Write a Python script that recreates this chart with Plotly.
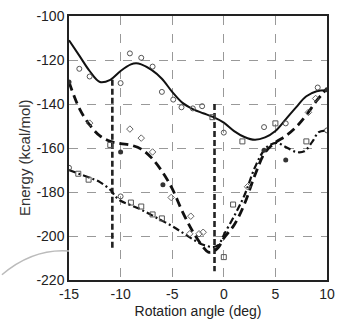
import plotly.graph_objects as go

# ---- data ----
angle_solid = [-15, -14, -13, -12, -11, -10, -9, -8.5, -8, -7, -6, -5, -4, -3, -2, -1, 0, 1, 2, 3, 4, 5, 6, 7, 8, 9, 10]
energy_solid = [-111, -118, -125, -130, -129, -125, -122, -121.5, -122, -124.5, -128.5, -134.5, -139.5, -142.3,
                -144.2, -146, -148.5, -152.3, -155, -156.3, -155.2, -152.3, -147, -141.5, -136.5, -134.2, -133.8]

angle_dash = [-15, -14, -13, -12, -11, -10, -9, -8, -7, -6, -5, -4, -3, -2, -1.5, -1, -0.5, 0, 1, 2, 3, 4, 5, 6, 7, 8, 9, 10]
energy_dash = [-130, -142, -149.5, -154.5, -157, -158, -158.7, -160.5, -164.5, -170.5, -178.5, -189, -198, -205,
               -207.3, -207, -205, -201, -195, -185.5, -172.5, -162, -157.5, -154.5, -150.5, -145, -138.5, -133]

angle_dd = [-15, -14, -13, -12, -11, -10.5, -10, -9, -8, -7, -6, -5, -4, -3, -2, -1, -0.5, 0, 1, 2, 3, 3.9, 4.5,
            5.2, 6, 7, 7.8, 8.6, 9.2, 10]
energy_dd = [-170, -171.8, -173.5, -175.5, -179, -182, -184, -186, -188, -190.5, -193, -195.5, -198.5, -201.5, -204,
             -205, -204, -199.5, -191, -181.5, -169, -161, -158.5, -157.7, -159.5, -161.8, -161.5, -157, -152.8, -152]

vline_x = [-10.8, -0.9]
vline_top = [-129, -140]
vline_bottom = [-206, -216]

circ_x = [-14, -13, -10, -9.1, -8, -6.9, -6, -4.9, -4.1, -3, -2.1, 0, 3.9, 6, 9.1, -15, -10, 10]
circ_y = [-124, -127.5, -130.5, -117, -119, -123, -134.5, -138, -141.5, -142, -141, -153, -150.5, -148.8, -132.5,
          -169, -182, -152]
sq_x = [-1.1, 1.8, 5, -11, 0, 0.9, -14.1, -13.1, -9, -8, -6.9, -6, 8]
sq_y = [-146, -157, -148.8, -158.6, -209.6, -185.7, -171.7, -174.4, -184.8, -186.6, -190.2, -192, -157]
dia_x = [-13, -9.1, -8, -6.9, -5.1, -3.2, -2, 8.2, 8.9, 2.3, -3.3, -2.4]
dia_y = [-148.7, -151.4, -155.5, -161.8, -182.5, -191, -198.3, -143.8, -137.5, -177.6, -199, -199]
fill_x = [-15, -10, -5.9, 6, 10, 3.9]
fill_y = [-130, -161.8, -176.7, -165.4, -133.5, -161]

x_ticks = [-15, -10, -5, 0, 5, 10]
y_ticks = [-100, -120, -140, -160, -180, -200, -220]

fig = go.Figure()

for vx, vt, vb in zip(vline_x, vline_top, vline_bottom):
    fig.add_trace(go.Scatter(x=[vx, vx], y=[vt, vb], mode="lines",
                             line=dict(color="#222", width=2.6, dash="6px,3px"), showlegend=False))

fig.add_trace(go.Scatter(x=angle_solid, y=energy_solid, mode="lines", line_shape="spline",
                         line=dict(color="#111", width=2), showlegend=False))
fig.add_trace(go.Scatter(x=angle_dash, y=energy_dash, mode="lines", line_shape="spline",
                         line=dict(color="#111", width=2.8, dash="9px,5px"), showlegend=False))
fig.add_trace(go.Scatter(x=angle_dd, y=energy_dd, mode="lines", line_shape="spline",
                         line=dict(color="#111", width=2.2, dash="7px,3px,2px,3px"), showlegend=False))

fig.add_trace(go.Scatter(x=circ_x, y=circ_y, mode="markers",
                         marker=dict(symbol="circle-open", size=5, color="#555", line=dict(width=1)),
                         showlegend=False))
fig.add_trace(go.Scatter(x=sq_x, y=sq_y, mode="markers",
                         marker=dict(symbol="square-open", size=5, color="#555", line=dict(width=1)),
                         showlegend=False))
fig.add_trace(go.Scatter(x=dia_x, y=dia_y, mode="markers",
                         marker=dict(symbol="diamond-open", size=5, color="#666", line=dict(width=1)),
                         showlegend=False))
fig.add_trace(go.Scatter(x=fill_x, y=fill_y, mode="markers",
                         marker=dict(symbol="circle", size=5, color="#333"), showlegend=False))

axis_common = dict(showline=True, linecolor="#222", linewidth=1.5, mirror=True,
                   showgrid=True, gridcolor="#999", gridwidth=1.2, griddash="dash",
                   zeroline=False, ticks="", tickfont=dict(family="Liberation Sans, Arial", size=14, color="#222"))

fig.update_xaxes(range=[-15, 10], tickvals=x_ticks, ticktext=[str(v) for v in x_ticks],
                 title=dict(text="Rotation angle (deg)", font=dict(family="Liberation Sans, Arial", size=14,
                                                                   color="#222"), standoff=6),
                 **axis_common)
fig.update_yaxes(range=[-220, -100], tickvals=y_ticks, ticktext=[str(v) for v in y_ticks], **axis_common)

fig.add_annotation(text="Energy (kcal/mol)", xref="paper", yref="paper", x=-0.175, y=0.465,
                   textangle=-90, showarrow=False, xanchor="center", yanchor="middle",
                   font=dict(family="Liberation Sans, Arial", size=15, color="#333"))

fig.add_shape(type="path", xref="paper", yref="paper",
              path="M -0.26,0.02 Q -0.14,0.12 0.0,0.11", line=dict(color="#bbb", width=1.5))

fig.update_layout(width=343, height=325, margin=dict(l=69, r=8, t=15, b=44),
                  paper_bgcolor="white", plot_bgcolor="white")

fig.write_html("out.html")
